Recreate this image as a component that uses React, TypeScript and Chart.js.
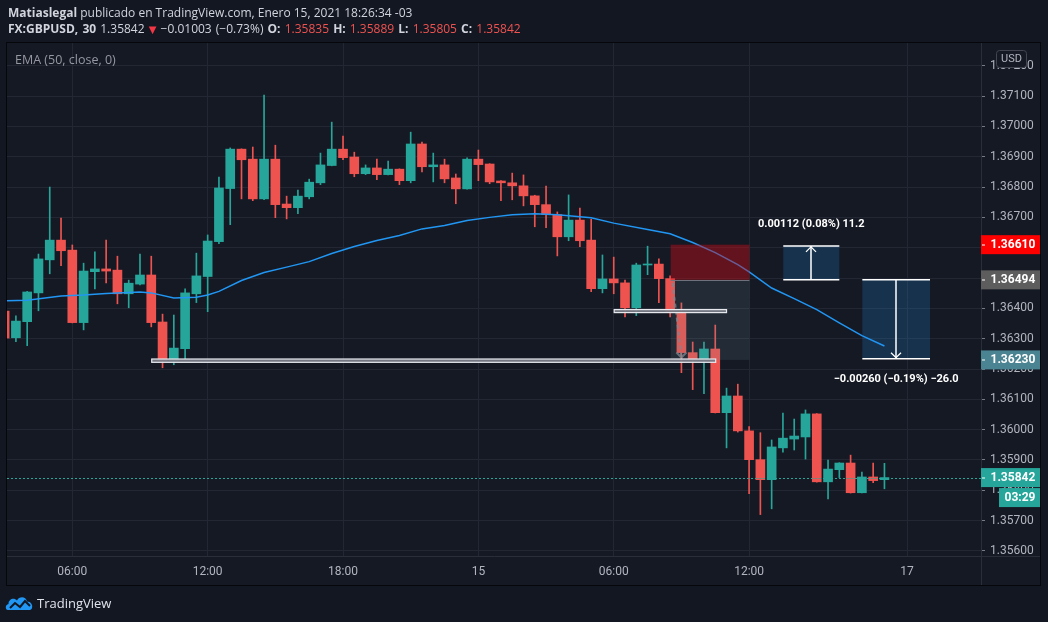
import React, { useEffect, useRef } from "react";
import { Chart, registerables } from "chart.js";

Chart.register(...registerables);

// ---------- data ----------
const FIRST_INDEX = -6; // candle index of first candle (03:00, Jan 14); index 0 = 06:00 Jan 14

const opens = [
  1.36391, 1.36303, 1.36356, 1.36451, 1.3656, 1.36625,
  1.36592, 1.36353, 1.36521, 1.3653, 1.36526, 1.36448, 1.3648, 1.3651, 1.36355, 1.36227,
  1.36267, 1.36448, 1.36505, 1.3662, 1.36795, 1.36925, 1.36892, 1.36761, 1.36892, 1.36744,
  1.36732, 1.36768, 1.36814, 1.36871, 1.36925, 1.36899, 1.36844, 1.36863, 1.36841, 1.36859,
  1.36821, 1.36942, 1.36867, 1.36873, 1.3683, 1.36794, 1.36892, 1.36876, 1.3682, 1.36814,
  1.36804, 1.36771, 1.36742, 1.36709, 1.36636, 1.36691, 1.36625, 1.36465, 1.36497, 1.36484,
  1.36402, 1.36543, 1.36546, 1.36498, 1.36389, 1.36254, 1.3623, 1.36266, 1.36056, 1.36111,
  1.35996, 1.35901, 1.35835, 1.3594, 1.35969, 1.35976, 1.36052, 1.35828, 1.35868, 1.3589,
  1.35792, 1.35844, 1.35835,
];
const highs = [
  1.36408, 1.36375, 1.36456, 1.36579, 1.368, 1.36698,
  1.36609, 1.36549, 1.36586, 1.36625, 1.36572, 1.36493, 1.36579, 1.36572, 1.36381, 1.36378,
  1.36464, 1.36582, 1.36642, 1.36833, 1.36929, 1.36926, 1.36932, 1.37103, 1.36938, 1.3677,
  1.3679, 1.36826, 1.36912, 1.37014, 1.36968, 1.36915, 1.36873, 1.36892, 1.36886, 1.3686,
  1.36981, 1.36948, 1.36912, 1.36892, 1.36843, 1.36896, 1.36922, 1.36877, 1.36821, 1.36846,
  1.3684, 1.36773, 1.36803, 1.36718, 1.36774, 1.36731, 1.36694, 1.36576, 1.36569, 1.36493,
  1.36549, 1.36605, 1.36563, 1.36507, 1.36418, 1.36289, 1.36289, 1.36345, 1.36137, 1.3615,
  1.3601, 1.3599, 1.35966, 1.36055, 1.36035, 1.36065, 1.36053, 1.359, 1.35891, 1.35916,
  1.3586, 1.3589, 1.35889,
];
const lows = [
  1.36292, 1.3629, 1.36277, 1.36392, 1.36514, 1.36541,
  1.36352, 1.36329, 1.36464, 1.36484, 1.36415, 1.36402, 1.36477, 1.36339, 1.36204, 1.36214,
  1.36234, 1.36419, 1.36389, 1.36613, 1.36676, 1.36761, 1.36755, 1.36758, 1.36699, 1.36695,
  1.36712, 1.36761, 1.36808, 1.3687, 1.3689, 1.36834, 1.36841, 1.36824, 1.3684, 1.36808,
  1.36814, 1.3685, 1.36817, 1.36814, 1.36745, 1.36793, 1.36821, 1.36811, 1.36755, 1.36758,
  1.36738, 1.36669, 1.36666, 1.36573, 1.36623, 1.36603, 1.36455, 1.36451, 1.36448, 1.36372,
  1.36376, 1.36511, 1.36419, 1.36372, 1.36188, 1.36132, 1.36119, 1.36055, 1.3594, 1.35992,
  1.35789, 1.3572, 1.35739, 1.35926, 1.35933, 1.35903, 1.35827, 1.35772, 1.35842, 1.35791,
  1.35791, 1.35825, 1.35805,
];
const closes = [
  1.36302, 1.36358, 1.36454, 1.36563, 1.36625, 1.3659,
  1.36353, 1.36523, 1.3653, 1.36523, 1.36448, 1.36483, 1.3651, 1.36353, 1.36227, 1.36269,
  1.36451, 1.36507, 1.36622, 1.36797, 1.36925, 1.3689, 1.36761, 1.36892, 1.36742, 1.36732,
  1.3677, 1.36816, 1.36873, 1.36925, 1.36897, 1.36844, 1.36863, 1.36841, 1.36859, 1.36821,
  1.36942, 1.36867, 1.36873, 1.36827, 1.36794, 1.36892, 1.36874, 1.36817, 1.36814, 1.36804,
  1.36771, 1.36742, 1.36709, 1.36636, 1.36691, 1.36623, 1.36465, 1.36497, 1.36484, 1.36402,
  1.36543, 1.36546, 1.36498, 1.36389, 1.36254, 1.3623, 1.36266, 1.36056, 1.36111, 1.35996,
  1.35901, 1.35835, 1.35943, 1.35972, 1.35979, 1.36052, 1.35828, 1.3587, 1.3589, 1.35792,
  1.35844, 1.35832, 1.35842,
];

const emaIndex = [-6, -4, -1, 1, 3, 6, 7, 9, 11, 12, 13, 15, 17, 19, 21, 23, 25, 27, 29, 31, 33, 35, 37, 39, 41, 43, 46, 48, 51, 53, 55, 57, 59, 60, 62, 64, 66, 68, 70, 72];
const emaValues = [
  1.36425, 1.36427, 1.36441, 1.36444, 1.36449, 1.36454, 1.36451, 1.36434, 1.36437, 1.36444,
  1.36456, 1.36492, 1.36518, 1.36536, 1.36554, 1.36581, 1.36604, 1.36624, 1.3664, 1.36662,
  1.36673, 1.3669, 1.367, 1.36709, 1.36712, 1.36709, 1.36699, 1.36681, 1.3666, 1.36646,
  1.36617, 1.36584, 1.36544, 1.3652, 1.36467, 1.36432, 1.36396, 1.36352, 1.3631, 1.36276,
];

const timeTickIndex = [0, 12, 24, 36, 48, 60, 74];
const timeTickLabels = ["06:00", "12:00", "18:00", "15", "06:00", "12:00", "17"];
const priceTicks = [1.356, 1.357, 1.358, 1.359, 1.36, 1.361, 1.362, 1.363, 1.364, 1.365, 1.366, 1.367, 1.368, 1.369, 1.37, 1.371, 1.372];

const symbolTitle = "FX:GBPUSD, 30";
const changeText = "\u22120.01003 (\u22120.73%)";
const countdownText = "03:29";

// drawings (index / price units)
const positionSpan = [53.05, 60.03];
const positionEntry = 1.36494;
const positionStop = 1.3661;
const positionTarget = 1.3623;
const levelStart = [7.04, 48.04];
const levelEnd = [57.04, 58.0];
const levelTop = [1.36233, 1.36396];
const levelBottom = [1.36222, 1.36386];
const measureStart = [63.03, 70.04];
const measureEnd = [68.0, 76.04];
const measureFrom = [1.36494, 1.36494];
const measureTo = [1.36606, 1.36234];
const measureLabels = ["0.00112 (0.08%) 11.2", "\u22120.00260 (\u22120.19%) \u221226.0"];
const axisBadgePrices = [1.3661, 1.36494, 1.3623];

// ---------- styles ----------
const UP = "#26a69a";
const DOWN = "#ef5350";
const BG = "#131722";
const PANE = "#151924";
const GRID = "#232733";
const AXIS_TEXT = "#b2b5be";
const BADGE_COLORS = ["#ff0000", "#5d5d5d", "#4a8391"];

export default function App() {
  const ref = useRef<HTMLCanvasElement>(null);

  useEffect(() => {
    const canvas = ref.current;
    if (!canvas) return;
    const idx = opens.map((_, k) => FIRST_INDEX + k);
    const colors = idx.map((_, k) => (closes[k] >= opens[k] ? UP : DOWN));
    const last = closes.length - 1;

    const overlay = {
      id: "overlay",
      beforeDraw(chart: any) {
        const ctx = chart.ctx;
        ctx.save();
        ctx.fillStyle = BG;
        ctx.fillRect(0, 0, chart.width, chart.height);
        ctx.fillStyle = PANE;
        ctx.fillRect(7, 43, 1033, 542);
        ctx.restore();
      },
      afterDraw(chart: any) {
        const ctx = chart.ctx;
        const xs = chart.scales.x;
        const ys = chart.scales.y;
        const ca = chart.chartArea;
        const X = (v: number) => xs.getPixelForValue(v);
        const Y = (v: number) => ys.getPixelForValue(v);

        ctx.save();
        ctx.beginPath();
        ctx.rect(ca.left, ca.top, ca.right - ca.left, ca.bottom - ca.top);
        ctx.clip();

        // position tool
        const p0 = X(positionSpan[0]);
        const p1 = X(positionSpan[1]);
        ctx.fillStyle = "rgba(205,12,22,0.42)";
        ctx.fillRect(p0, Y(positionStop), p1 - p0, Y(positionEntry) - Y(positionStop));
        ctx.fillStyle = "rgba(105,140,150,0.17)";
        ctx.fillRect(p0, Y(positionEntry), p1 - p0, Y(positionTarget) - Y(positionEntry));
        ctx.strokeStyle = "#6f727c";
        ctx.lineWidth = 1;
        ctx.beginPath();
        ctx.moveTo(p0, Math.round(Y(positionEntry)) + 0.5);
        ctx.lineTo(p1, Math.round(Y(positionEntry)) + 0.5);
        ctx.stroke();
        // dashed path inside
        ctx.strokeStyle = "rgba(130,133,143,0.75)";
        ctx.lineWidth = 2;
        ctx.setLineDash([4, 3]);
        const dx0 = p0 + 2;
        const dy0 = Y(positionEntry) + 3;
        const dx1 = X(positionSpan[0] + 0.95);
        const dy1 = Y(positionTarget + 0.00008);
        ctx.beginPath();
        ctx.moveTo(dx0, dy0);
        ctx.lineTo(dx1, dy1);
        ctx.stroke();
        ctx.setLineDash([]);
        ctx.beginPath();
        ctx.moveTo(dx1 - 5, dy1 - 5);
        ctx.lineTo(dx1, dy1);
        ctx.lineTo(dx1 + 5, dy1 - 5);
        ctx.stroke();

        // horizontal level boxes
        for (let k = 0; k < levelStart.length; k++) {
          const x0 = X(levelStart[k]);
          const x1 = X(levelEnd[k]);
          const y0 = Y(levelTop[k]);
          const y1 = Y(levelBottom[k]);
          ctx.fillStyle = "rgba(120,123,134,0.95)";
          ctx.fillRect(x0, y0, x1 - x0, y1 - y0);
          ctx.strokeStyle = "#e6e8ee";
          ctx.lineWidth = 1.2;
          ctx.strokeRect(x0, y0, x1 - x0, y1 - y0);
        }

        // current price dotted line
        const yl = Math.round(Y(closes[last])) + 0.5;
        ctx.strokeStyle = UP;
        ctx.lineWidth = 1;
        ctx.setLineDash([2, 2]);
        ctx.beginPath();
        ctx.moveTo(ca.left, yl);
        ctx.lineTo(ca.right, yl);
        ctx.stroke();
        ctx.setLineDash([]);

        // measure boxes
        for (let k = 0; k < measureStart.length; k++) {
          const x0 = X(measureStart[k]);
          const x1 = X(measureEnd[k]);
          const ya = Y(measureFrom[k]);
          const yb = Y(measureTo[k]);
          const top = Math.min(ya, yb);
          const bot = Math.max(ya, yb);
          ctx.fillStyle = "rgba(33,150,243,0.2)";
          ctx.fillRect(x0, top, x1 - x0, bot - top);
          ctx.strokeStyle = "#ffffff";
          ctx.lineWidth = 1.5;
          ctx.beginPath();
          ctx.moveTo(x0, top);
          ctx.lineTo(x1, top);
          ctx.moveTo(x0, bot);
          ctx.lineTo(x1, bot);
          const cx = Math.round((x0 + x1) / 2);
          ctx.moveTo(cx, top);
          ctx.lineTo(cx, bot);
          ctx.stroke();
          ctx.beginPath();
          ctx.lineWidth = 1.3;
          if (yb < ya) {
            ctx.moveTo(cx - 5, top + 6);
            ctx.lineTo(cx, top + 1);
            ctx.lineTo(cx + 5, top + 6);
          } else {
            ctx.moveTo(cx - 5, bot - 6);
            ctx.lineTo(cx, bot - 1);
            ctx.lineTo(cx + 5, bot - 6);
          }
          ctx.stroke();
          ctx.fillStyle = "#ffffff";
          ctx.font = "bold 11px Roboto";
          ctx.textAlign = "center";
          ctx.textBaseline = "middle";
          const ty = yb < ya ? top - 22 : bot + 21;
          ctx.fillText(measureLabels[k], (x0 + x1) / 2, ty);
        }
        ctx.restore();

        // extra axis separators
        ctx.save();
        ctx.strokeStyle = "#2a2e39";
        ctx.lineWidth = 1;
        ctx.beginPath();
        ctx.moveTo(ca.right + 0.5, ca.bottom);
        ctx.lineTo(ca.right + 0.5, 585);
        ctx.moveTo(ca.right, ca.bottom + 0.5);
        ctx.lineTo(1040, ca.bottom + 0.5);
        ctx.stroke();

        // price badges on axis
        const badge = (price: number, color: string, text: string) => {
          const yy = Y(price);
          ctx.fillStyle = color;
          ctx.fillRect(ca.right, yy - 9.5, 59, 19);
          ctx.fillStyle = "#ffffff";
          ctx.fillRect(ca.right + 1, Math.round(yy) - 0.5, 3, 1);
          ctx.font = "bold 12px Roboto";
          ctx.textAlign = "left";
          ctx.textBaseline = "middle";
          ctx.fillText(text, ca.right + 9.5, yy + 0.5);
        };
        for (let k = 0; k < axisBadgePrices.length; k++) {
          badge(axisBadgePrices[k], BADGE_COLORS[k], axisBadgePrices[k].toFixed(5));
        }
        badge(closes[last], UP, closes[last].toFixed(5));
        const cy = Y(closes[last]) + 20;
        ctx.fillStyle = UP;
        ctx.fillRect(999, cy - 9.5, 41, 19);
        ctx.fillStyle = "#ffffff";
        ctx.font = "bold 12px Roboto";
        ctx.textAlign = "center";
        ctx.fillText(countdownText, 1020, cy + 0.5);

        // USD badge
        ctx.fillStyle = PANE;
        ctx.strokeStyle = "#434651";
        ctx.lineWidth = 1;
        ctx.beginPath();
        ctx.roundRect(996.5, 50.5, 30, 17, 3);
        ctx.fill();
        ctx.stroke();
        ctx.fillStyle = AXIS_TEXT;
        ctx.font = "11px Roboto";
        ctx.textAlign = "center";
        ctx.textBaseline = "middle";
        ctx.fillText("USD", 1011.5, 59.5);

        // frame
        ctx.strokeStyle = "#05070b";
        ctx.lineWidth = 1;
        ctx.strokeRect(6.5, 42.5, 1034, 543);
        ctx.restore();
      },
    };

    const chart = new Chart(canvas, {
      type: "bar",
      data: {
        datasets: [
          {
            type: "line",
            label: "EMA",
            data: emaIndex.map((x, k) => ({ x, y: emaValues[k] })),
            borderColor: "#2196f3",
            borderWidth: 1.5,
            pointRadius: 0,
            tension: 0,
            order: 0,
            clip: 0,
          } as any,
          {
            type: "bar",
            label: "body",
            data: idx.map((x, k) => ({ x, y: [opens[k], closes[k]] })),
            backgroundColor: colors,
            barThickness: 9,
            minBarLength: 1,
            grouped: false,
            borderWidth: 0,
            borderSkipped: false,
            order: 1,
            clip: 0,
          } as any,
          {
            type: "bar",
            label: "wick",
            data: idx.map((x, k) => ({ x, y: [lows[k], highs[k]] })),
            backgroundColor: colors,
            barThickness: 1,
            grouped: false,
            borderWidth: 0,
            borderSkipped: false,
            order: 2,
            clip: 0,
          } as any,
        ],
      },
      options: {
        responsive: false,
        maintainAspectRatio: false,
        animation: false,
        events: [],
        layout: { padding: { left: 7, right: 8, top: 43, bottom: 37 } },
        plugins: { legend: { display: false }, tooltip: { enabled: false } },
        scales: {
          x: {
            type: "linear",
            position: "bottom",
            min: -5.79,
            max: 80.56,
            offset: false,
            afterBuildTicks: (s: any) => {
              s.ticks = timeTickIndex.map((v) => ({ value: v }));
            },
            afterFit: (s: any) => {
              s.height = 29;
            },
            grid: { color: GRID, drawTicks: false, offset: false },
            border: { display: true, color: "#2a2e39" },
            ticks: {
              autoSkip: false,
              maxRotation: 0,
              padding: 9,
              color: AXIS_TEXT,
              font: { family: "Roboto", size: 12 },
              callback: (_v: any, i: number) => timeTickLabels[i],
            },
          },
          y: {
            type: "linear",
            position: "right",
            min: 1.355834,
            max: 1.37275,
            afterBuildTicks: (s: any) => {
              s.ticks = priceTicks.map((v) => ({ value: v }));
            },
            afterFit: (s: any) => {
              s.width = 59;
            },
            grid: { color: GRID, drawTicks: true, tickLength: 4, tickColor: "#787b86" },
            border: { display: true, color: "#2a2e39" },
            ticks: {
              padding: 5,
              color: AXIS_TEXT,
              font: { family: "Roboto", size: 12 },
              callback: (v: any) => Number(v).toFixed(5),
            },
          },
        },
      } as any,
      plugins: [overlay],
    });
    return () => chart.destroy();
  }, []);

  const lastIdx = closes.length - 1;
  const red = "#f23645";
  const valRed = "#ef5350";
  return (
    <div
      style={{
        position: "fixed",
        left: 0,
        top: 0,
        width: 1048,
        height: 622,
        background: BG,
        overflow: "hidden",
        fontFamily: "'Open Sans', sans-serif",
      }}
    >
      <canvas ref={ref} width={1048} height={622} style={{ position: "absolute", left: 0, top: 0, width: 1048, height: 622, display: "block" }} />
      <div style={{ position: "absolute", left: 8, top: 5, fontSize: 12, lineHeight: "16px", color: "#d1d4dc", whiteSpace: "nowrap" }}>
        <div>
          <b>Matiaslegal</b> publicado en TradingView.com, Enero 15, 2021 18:26:34 -03
        </div>
        <div style={{ wordSpacing: 1 }}>
          <b>{symbolTitle}</b> {closes[lastIdx].toFixed(5)} <span style={{ color: red, fontFamily: "'DejaVu Sans'", fontSize: 10 }}>▼</span> {changeText}{" "}
          <b>O:</b> <span style={{ color: valRed }}>{opens[lastIdx].toFixed(5)}</span> <b>H:</b>{" "}
          <span style={{ color: valRed }}>{highs[lastIdx].toFixed(5)}</span> <b>L:</b>{" "}
          <span style={{ color: valRed }}>{lows[lastIdx].toFixed(5)}</span> <b>C:</b>{" "}
          <span style={{ color: valRed }}>{closes[lastIdx].toFixed(5)}</span>
        </div>
      </div>
      <div style={{ position: "absolute", left: 15, top: 51, fontSize: 12.5, lineHeight: "18px", color: "#9598a1", whiteSpace: "nowrap" }}>
        EMA (50, close, 0)
      </div>
      <div style={{ position: "absolute", left: 5, top: 594, display: "flex", alignItems: "center", gap: 4 }}>
        <svg width="28" height="18" viewBox="0 0 28 18">
          <path d="M3 16 C0 16 0 10.5 3.5 10 C3.5 5 9 3 12 6.5 C14 2 21 2 22 7.5 C26 7.5 28 11 27 14 C26.6 15.4 25.5 16 24 16 Z" fill="#2196f3" />
          <polyline points="5,14 10,9 15,13 20,7 25,12" fill="none" stroke={BG} strokeWidth="2" />
        </svg>
        <span style={{ color: "#e0e3eb", fontSize: 13, lineHeight: "18px" }}>TradingView</span>
      </div>
    </div>
  );
}
